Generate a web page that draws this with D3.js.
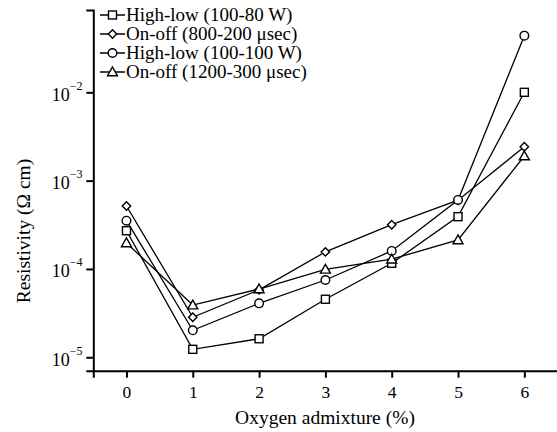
<!DOCTYPE html>
<html><head><meta charset="utf-8">
<script src="https://cdn.jsdelivr.net/npm/d3@7"></script>
<style>body{margin:0;background:#fff}svg{display:block;font-family:'Liberation Serif','Tinos','Times New Roman','DejaVu Serif',serif}svg text{font-family:'Liberation Serif','Tinos','Times New Roman','DejaVu Serif',serif;fill:#000}</style>
</head><body><svg id="c" width="557" height="432"></svg>
<script>
const oxygen = [0, 1, 2, 3, 4, 5, 6];
const highLow80 = [2.71e-4, 1.23e-5, 1.62e-5, 4.54e-5, 1.16e-4, 3.91e-4, 1.0e-2];
const onOff800 = [5.16e-4, 2.84e-5, 5.8e-5, 1.56e-4, 3.17e-4, 6.0e-4, 2.42e-3];
const highLow100 = [3.52e-4, 2.02e-5, 4.08e-5, 7.5e-5, 1.6e-4, 6.04e-4, 4.38e-2];
const onOff1200 = [1.97e-4, 3.9e-5, 5.93e-5, 9.9e-5, 1.29e-4, 2.13e-4, 1.9e-3];
const seriesNames = ["High-low (100-80 W)", "On-off (800-200 \u03bcsec)", "High-low (100-100 W)", "On-off (1200-300 \u03bcsec)"];
const yTickExps = [-2, -3, -4, -5];
const xTicks = [0, 1, 2, 3, 4, 5, 6];

const series = [
  {name: seriesNames[0], values: highLow80, sym: "square"},
  {name: seriesNames[1], values: onOff800, sym: "diamond"},
  {name: seriesNames[2], values: highLow100, sym: "circle"},
  {name: seriesNames[3], values: onOff1200, sym: "triangle"}
];

const svg = d3.select("#c");
const x = d3.scaleLinear().domain([-0.5, 6.5]).range([93.3, 557.5]);
const y = d3.scaleLog().domain([Math.pow(10, -5.152), Math.pow(10, -1.068)]).range([370.7, 10]);

function drawSym(g, type, cx, cy) {
  let s;
  if (type === "square") s = g.append("rect").attr("x", cx - 4).attr("y", cy - 4).attr("width", 8).attr("height", 8);
  else if (type === "circle") s = g.append("circle").attr("cx", cx).attr("cy", cy).attr("r", 4.3);
  else if (type === "diamond") s = g.append("path").attr("d", `M${cx},${cy-4.2}L${cx+4.2},${cy}L${cx},${cy+4.2}L${cx-4.2},${cy}Z`);
  else s = g.append("path").attr("d", `M${cx},${cy-5}L${cx+5},${cy+3.8}L${cx-5},${cy+3.8}Z`);
  s.attr("fill", "#fff").attr("stroke", "#000").attr("stroke-width", 1.4);
}

const line = d3.line().x((d, i) => x(oxygen[i])).y(d => y(d));
const plot = svg.append("g");
series.forEach(s => {
  plot.append("path").attr("d", line(s.values)).attr("fill", "none").attr("stroke", "#000").attr("stroke-width", 1.3);
});
series.forEach(s => {
  const g = plot.append("g");
  s.values.forEach((v, i) => drawSym(g, s.sym, x(oxygen[i]), y(v)));
});

const FF = "'Liberation Serif','Tinos','Times New Roman','DejaVu Serif',serif";
// axes
const xAxis = d3.axisBottom(x).tickValues(xTicks).tickSize(7).tickSizeOuter(7).tickFormat(d3.format("d"));
const gx = svg.append("g").attr("transform", "translate(0,370.7)").call(xAxis);
gx.attr("font-family", FF);
gx.selectAll("path,line").attr("stroke", "#000").attr("stroke-width", 2);
gx.selectAll("text").attr("font-size", 17.5).attr("dy", "0.98em");

const yAxis = d3.axisLeft(y).tickValues(yTickExps.map(e => Math.pow(10, e))).tickSize(7).tickSizeOuter(7).tickFormat("");
const gy = svg.append("g").attr("transform", "translate(93.3,0)").call(yAxis);
gy.attr("font-family", FF);
gy.selectAll("path,line").attr("stroke", "#000").attr("stroke-width", 2);
gy.selectAll(".tick").each(function(d) {
  const e = Math.round(Math.log10(d));
  const t = d3.select(this).append("text").attr("x", -41.5).attr("y", 8).attr("text-anchor", "start").attr("font-size", 18);
  t.append("tspan").text("10");
  t.append("tspan").attr("dy", -11).attr("font-size", 12).text("\u2212" + Math.abs(e));
});
svg.selectAll(".domain").attr("fill", "none");

// titles
svg.append("text").attr("x", 325).attr("y", 424).attr("text-anchor", "middle").attr("font-size", 19.5).text("Oxygen admixture (%)");
svg.append("text").attr("transform", "translate(30,231) rotate(-90)").attr("text-anchor", "middle").attr("font-size", 19.5).text("Resistivity (\u03a9 cm)");

// legend
const leg = svg.append("g");
series.forEach((s, i) => {
  const cy = 15 + i * 19;
  leg.append("line").attr("x1", 100).attr("x2", 125).attr("y1", cy).attr("y2", cy).attr("stroke", "#000").attr("stroke-width", 1.5);
  drawSym(leg, s.sym, 112.5, cy);
  leg.append("text").attr("x", 126).attr("y", cy + 6).attr("font-size", 19).text(s.name);
});
</script></body></html>
